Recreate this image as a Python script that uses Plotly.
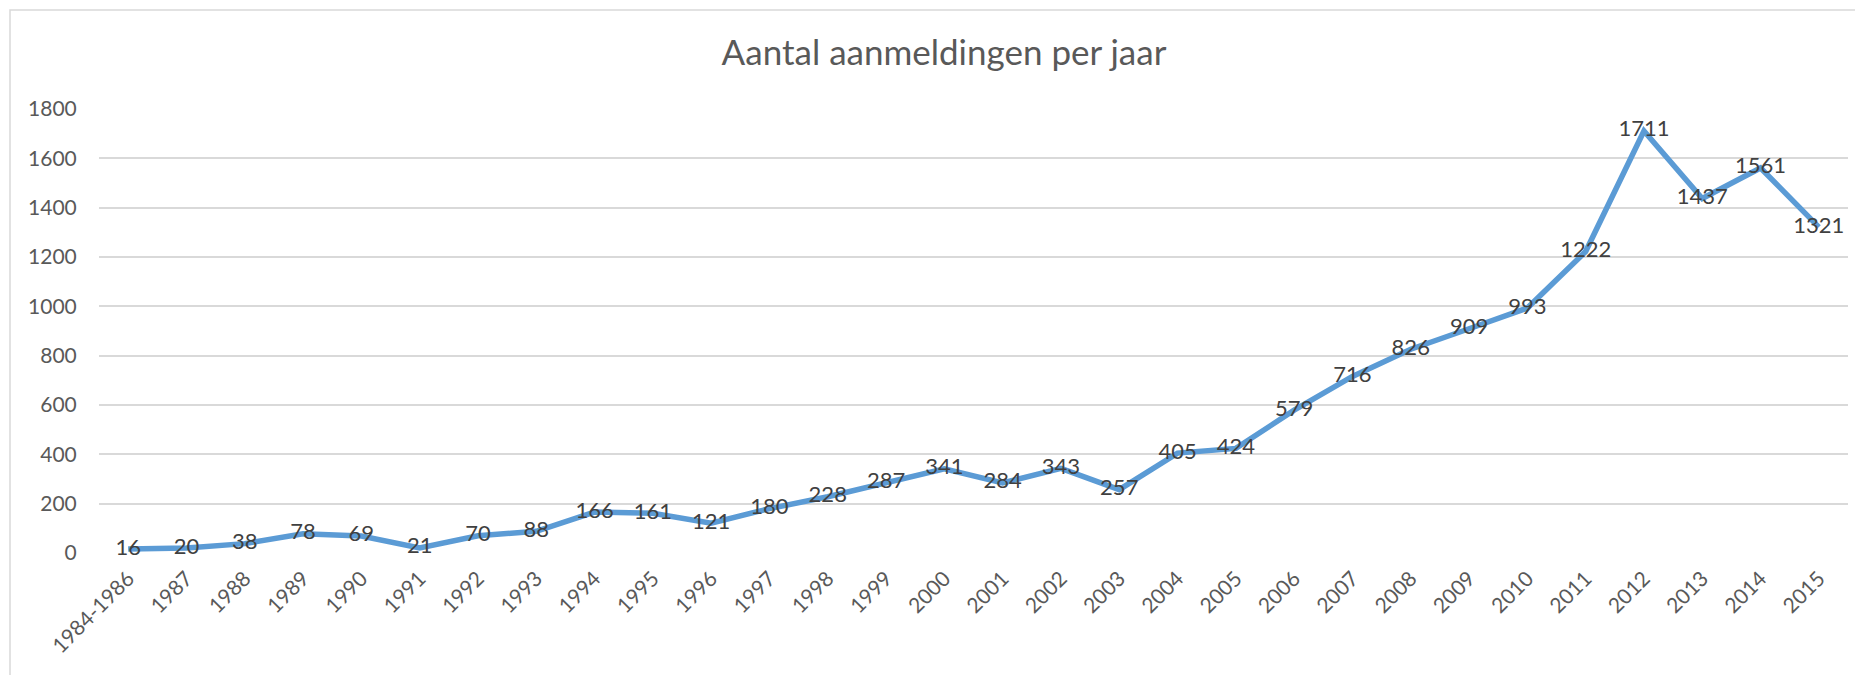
import plotly.graph_objects as go

categories = ["1984-1986"] + [str(y) for y in range(1987, 2016)]
values = [16, 20, 38, 78, 69, 21, 70, 88, 166, 161, 121, 180, 228, 287, 341,
          284, 343, 257, 405, 424, 579, 716, 826, 909, 993, 1222, 1711, 1437, 1561, 1321]
y_ticks = [0, 200, 400, 600, 800, 1000, 1200, 1400, 1600, 1800]

OFF = 8  # default page body margin
W, H = 1863 - OFF, 675 - OFF
L, T = 99 - OFF, 109 - OFF
R = W - (1848 - OFF)
B = H - (553 - OFF)
pw = W - L - R
ph = H - T - B

fig = go.Figure()
fig.add_trace(go.Scatter(
    x=categories, y=values, mode="lines+text",
    line=dict(color="#5B9BD5", width=5.5),
    text=[str(v) for v in values], textposition="middle center",
    textfont=dict(family="Lato, sans-serif", size=22, color="#404040"),
    cliponaxis=False, hoverinfo="x+y",
))

fig.update_layout(
    width=W, height=H,
    margin=dict(l=L, r=R, t=T, b=B),
    paper_bgcolor="white", plot_bgcolor="white",
    showlegend=False,
    title=dict(text="Aantal aanmeldingen per jaar",
               x=(944 - OFF - L) / pw, xref="paper", xanchor="center",
               y=1 - (53 - OFF) / H, yref="container", yanchor="middle",
               font=dict(family="Lato, sans-serif", size=35, color="#595959")),
    xaxis=dict(type="category", showgrid=False, zeroline=False,
               showline=False, ticks="outside", ticklen=4, tickcolor="rgba(0,0,0,0)",
               tickangle=-45,
               tickfont=dict(family="Lato, sans-serif", size=21, color="#595959"),
               range=[-0.5, len(categories) - 0.5]),
    yaxis=dict(range=[0, 1800], tickvals=y_ticks, showgrid=True,
               gridcolor="#D9D9D9", gridwidth=1.5, zeroline=False,
               showline=False, ticks="outside", ticklen=17, tickcolor="rgba(0,0,0,0)",
               tickfont=dict(family="Lato, sans-serif", size=21, color="#595959")),
    shapes=[dict(type="rect", xref="paper", yref="paper",
                 x0=(10 - 99) / pw, x1=1.2, y0=-0.5, y1=1 + (109 - 10) / ph,
                 line=dict(color="#D9D9D9", width=1.5), fillcolor="rgba(0,0,0,0)",
                 layer="below")],
)

fig.write_html("out.html")
